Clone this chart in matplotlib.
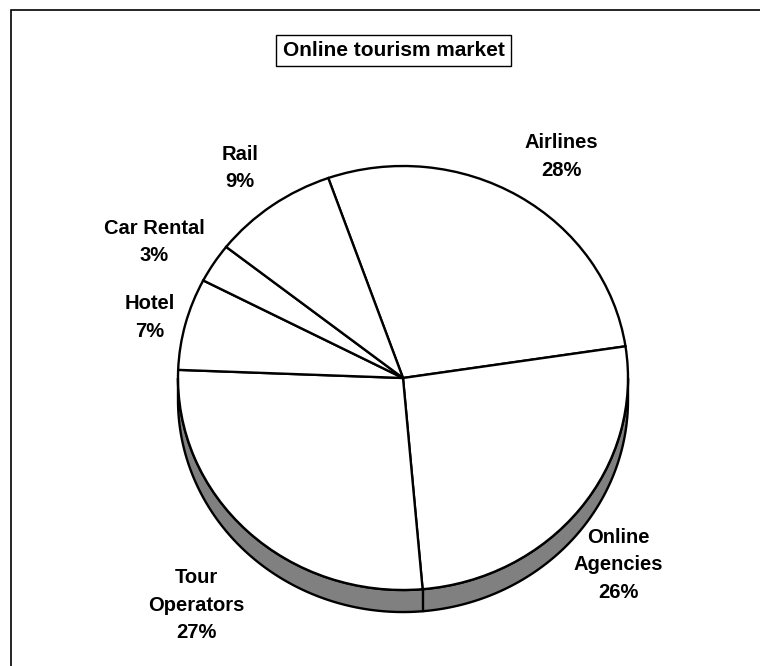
import numpy as np
import matplotlib
matplotlib.use("Agg")
import matplotlib.pyplot as plt
from matplotlib.patches import Polygon, Rectangle

# slice data, clockwise from the top-left
names = ["Airlines", "Online\nAgencies", "Tour\nOperators", "Hotel", "Car Rental", "Rail"]
shares = [28, 26, 27, 7, 3, 9]

title = "Online tourism market"

plt.rcParams["font.family"] = ["Liberation Sans", "DejaVu Sans"]

fig = plt.figure(figsize=(7.6, 6.66), dpi=100)
ax = fig.add_axes([0, 0, 1, 1])

start = 109.4
depth = 0.104
lw = 1.7

wedges, _ = ax.pie(shares, startangle=start, counterclock=False, radius=1.0,
                   colors=["white"] * len(shares),
                   wedgeprops=dict(edgecolor="black", linewidth=lw, zorder=3))

# side wall of the tilted disc (front half only)
t = np.linspace(np.pi, 2 * np.pi, 200)
top = np.column_stack([np.cos(t), np.sin(t)])
bottom = np.column_stack([np.cos(t[::-1]), np.sin(t[::-1]) - depth])
side = Polygon(np.vstack([top, bottom]), closed=True, facecolor="#808080",
               edgecolor="black", linewidth=lw, zorder=1)
ax.add_patch(side)

# seams on the side wall where slice edges run into the front half
edges = start - 360 * np.cumsum(shares) / sum(shares)
for a in np.deg2rad(edges):
    if np.sin(a) < 0:
        ax.plot([np.cos(a)] * 2, [np.sin(a), np.sin(a) - depth],
                color="black", lw=lw, zorder=2)

# label positions (data units of the disc)
label_xy = [(0.702, 1.045), (0.956, -0.882), (-0.92, -1.071),
            (-1.124, 0.285), (-1.107, 0.642), (-0.724, 0.991)]
total = sum(shares)
for name, v, (lx, ly) in zip(names, shares, label_xy):
    ax.text(lx, ly, f"{name}\n{v / total * 100:.0f}%", ha="center", va="center",
            fontsize=14.5, fontweight="bold", linespacing=1.55, zorder=4)

ax.set_aspect("auto")
ax.set_xlim(-403 / 225, (760 - 403) / 225)
ax.set_ylim(-(666 - 378) / 212, 378 / 212)
ax.axis("off")

fig.text(393.5 / 760, 1 - 50.5 / 666, title, ha="center", va="center",
         fontsize=15, fontweight="bold",
         bbox=dict(boxstyle="square,pad=0.3", facecolor="white",
                   edgecolor="black", linewidth=1.0))

# outer chart border, running off the right and bottom edges
fig.patches.append(Rectangle((11 / 760, -0.1), 1.2, 1.1 - 10 / 666,
                             transform=fig.transFigure, fill=False,
                             edgecolor="black", linewidth=1.2))

fig.savefig("out.png", dpi=100, facecolor="white")
